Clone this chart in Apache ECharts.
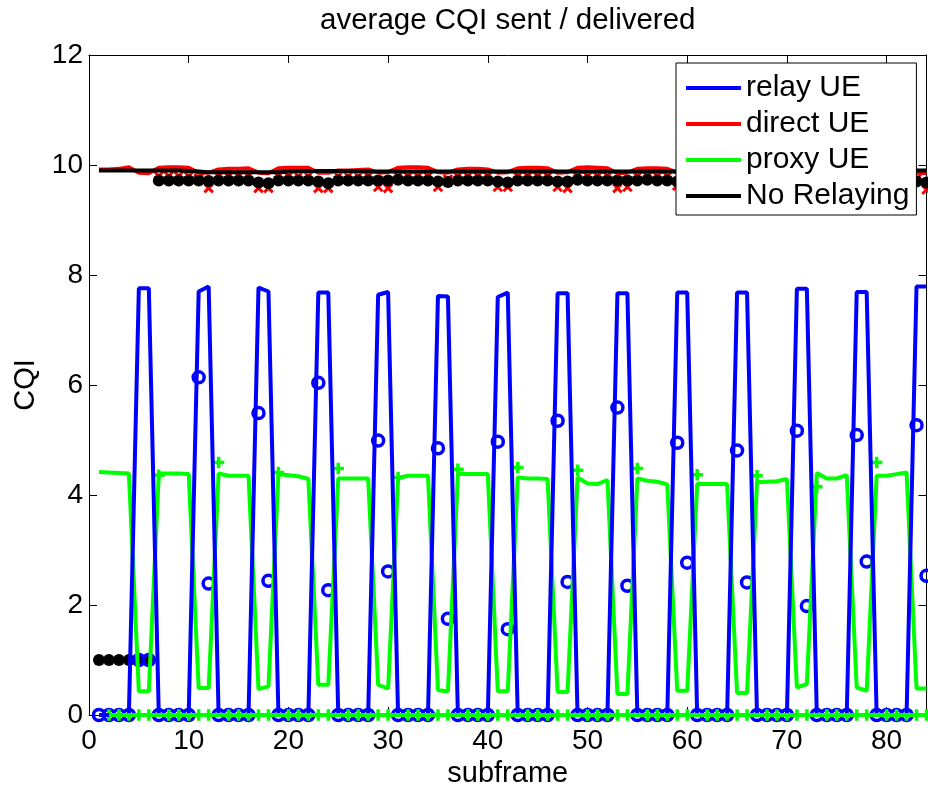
<!DOCTYPE html>
<html>
<head>
<meta charset="utf-8">
<script src="https://cdn.jsdelivr.net/npm/echarts@6/dist/echarts.min.js"></script>
<style>
html,body{margin:0;padding:0;background:#fff;}
#chart{width:928px;height:786px;}
</style>
</head>
<body>
<div id="chart"></div>
<script>
// subframe indices 1..84
const subframes = Array.from({length: 84}, (_, i) => i + 1);
const xTicks = [0, 10, 20, 30, 40, 50, 60, 70, 80];
const yTicks = [0, 2, 4, 6, 8, 10, 12];

// line series: CQI sent
const relayUE = [
  0,0,0,0,7.76,7.76, 0,0,0,0,7.70,7.79, 0,0,0,0,7.77,7.70, 0,0,0,0,7.68,7.68,
  0,0,0,0,7.64,7.69, 0,0,0,0,7.62,7.61, 0,0,0,0,7.60,7.68, 0,0,0,0,7.67,7.67,
  0,0,0,0,7.67,7.67, 0,0,0,0,7.68,7.68, 0,0,0,0,7.68,7.68, 0,0,0,0,7.75,7.75,
  0,0,0,0,7.69,7.69, 0,0,0,0,7.79,7.79
];
const directUE = [
  9.92,9.92,9.93,9.96,9.86,9.85, 9.95,9.96,9.96,9.95,9.86,9.86,
  9.92,9.93,9.93,9.94,9.86,9.85, 9.94,9.95,9.95,9.95,9.86,9.86,
  9.90,9.90,9.91,9.92,9.86,9.87, 9.95,9.96,9.96,9.95,9.87,9.86,
  9.92,9.93,9.93,9.92,9.86,9.87, 9.94,9.95,9.95,9.94,9.86,9.87,
  9.95,9.96,9.95,9.94,9.85,9.86, 9.93,9.94,9.94,9.93,9.86,9.85,
  9.94,9.95,9.94,9.93,9.86,9.86, 9.93,9.94,9.94,9.93,9.85,9.86,
  9.95,9.95,9.94,9.93,9.86,9.85, 9.94,9.94,9.95,9.94,9.86,9.85
];
const proxyUE = [
  4.42,4.41,4.40,4.39,0.43,0.43, 4.39,4.39,4.39,4.38,0.49,0.49,
  4.39,4.35,4.35,4.35,0.47,0.52, 4.38,4.36,4.34,4.29,0.55,0.55,
  4.30,4.30,4.30,4.30,0.55,0.48, 4.31,4.35,4.35,4.35,0.45,0.43,
  4.38,4.38,4.38,4.38,0.43,0.43, 4.32,4.30,4.30,4.29,0.42,0.42,
  4.32,4.21,4.20,4.27,0.38,0.38, 4.30,4.26,4.24,4.19,0.44,0.44,
  4.20,4.20,4.20,4.20,0.40,0.40, 4.23,4.24,4.25,4.29,0.50,0.56,
  4.40,4.30,4.30,4.36,0.50,0.44, 4.35,4.35,4.38,4.41,0.48,0.48
];
const noRelaying = [
  9.90,9.90,9.90,9.90,9.90,9.90, 9.90,9.90,9.90,9.89,9.88,9.87,
  9.87,9.87,9.87,9.87,9.87,9.87, 9.87,9.88,9.89,9.89,9.89,9.89,
  9.89,9.89,9.89,9.88,9.88,9.88, 9.88,9.88,9.88,9.88,9.88,9.88,
  9.88,9.88,9.88,9.88,9.88,9.88, 9.88,9.88,9.88,9.88,9.88,9.88,
  9.88,9.88,9.88,9.88,9.88,9.88, 9.88,9.88,9.88,9.88,9.88,9.88,
  9.88,9.88,9.88,9.88,9.88,9.88, 9.88,9.88,9.88,9.88,9.88,9.88,
  9.89,9.89,9.89,9.89,9.89,9.89, 9.89,9.89,9.89,9.89,9.90,9.90
];
const proxyBase = [
  null,0,0,0,0,0, 0,0,0,0,0,0, 0,0,0,0,0,0, 0,0,0,0,0,0,
  0,0,0,0,0,0, 0,0,0,0,0,0, 0,0,0,0,0,0, 0,0,0,0,0,0,
  0,0,0,0,0,0, 0,0,0,0,0,0, 0,0,0,0,0,0, 0,0,0,0,0,0,
  0,0,0,0,0,0, 0,0,0,0,0,0
];

// marker series: CQI delivered
const relayDelivered = [
  0,0,0,0,1,1, 0,0,0,0,6.14,2.39, 0,0,0,0,5.49,2.44, 0,0,0,0,6.04,2.27,
  0,0,0,0,4.99,2.61, 0,0,0,0,4.85,1.75, 0,0,0,0,4.97,1.56, 0,0,0,0,5.35,2.42,
  0,0,0,0,5.59,2.35, 0,0,0,0,4.95,2.77, 0,0,0,0,4.81,2.41, 0,0,0,0,5.17,1.98,
  0,0,0,0,5.09,2.79, 0,0,0,0,5.27,2.53
];
const proxyDelivered = [
  null,0,0,0,0,0, 4.36,0,0,0,0,0, 4.59,0,0,0,0,0, 4.41,0,0,0,0,0,
  4.48,0,0,0,0,0, 4.32,0,0,0,0,0, 4.47,0,0,0,0,0, 4.50,0,0,0,0,0,
  4.45,0,0,0,0,0, 4.48,0,0,0,0,0, 4.37,0,0,0,0,0, 4.35,0,0,0,0,0,
  4.15,0,0,0,0,0, 4.59,0,0,0,0,0
];
const directDelivered = [
  null,null,null,null,null,null, 9.80,9.80,9.80,9.80,9.76,9.58,
  9.80,9.80,9.80,9.80,9.58,9.58, 9.80,9.80,9.80,9.80,9.58,9.58,
  9.80,9.80,9.80,9.80,9.60,9.58, 9.80,9.80,9.80,9.80,9.60,9.74,
  9.80,9.80,9.80,9.80,9.60,9.60, 9.80,9.80,9.80,9.80,9.60,9.58,
  9.80,9.80,9.80,9.80,9.58,9.60, 9.80,9.80,9.80,9.80,9.62,9.74,
  9.80,9.80,9.80,9.80,9.60,9.60, 9.80,9.80,9.80,9.80,9.58,9.60,
  9.80,9.80,9.80,9.80,9.60,9.58, 9.80,9.80,9.80,9.80,9.75,9.55
];
const noRelayDelivered = [
  1,1,1,1,1,1, 9.72,9.72,9.72,9.72,9.72,9.71,
  9.72,9.72,9.72,9.72,9.68,9.67, 9.72,9.72,9.72,9.72,9.70,9.67,
  9.72,9.72,9.72,9.72,9.72,9.72, 9.73,9.72,9.72,9.72,9.70,9.69,
  9.72,9.72,9.72,9.72,9.70,9.68, 9.72,9.72,9.72,9.72,9.70,9.70,
  9.73,9.72,9.72,9.72,9.72,9.72, 9.72,9.73,9.72,9.72,9.70,9.70,
  9.72,9.72,9.72,9.72,9.70,9.70, 9.72,9.72,9.72,9.72,9.70,9.70,
  9.72,9.72,9.72,9.72,9.70,9.70, 9.72,9.72,9.72,9.72,9.70,9.68
];

const FONT = '"Liberation Sans", Arial, Helvetica, sans-serif';
const pairs = ys => subframes.map((x, i) => [x, ys[i]]);

const chart = echarts.init(document.getElementById('chart'), null, {renderer: 'canvas'});

const lineSeries = (name, data, color) => ({
  name, type: 'line', data: pairs(data), symbol: 'none', showSymbol: false,
  lineStyle: {color, width: 4}, itemStyle: {color}, animation: false, connectNulls: false
});
const markSeries = (name, data, symbol, size, fill, stroke, bw) => ({
  name, type: 'scatter', data: pairs(data).filter(p => p[1] !== null),
  symbol, symbolSize: size,
  itemStyle: {color: fill, borderColor: stroke, borderWidth: bw, opacity: 1},
  animation: false
});

const axisCommon = {
  type: 'value',
  axisLine: {show: true, onZero: false, lineStyle: {color: '#000', width: 1}},
  axisTick: {show: true, inside: true, length: 8, lineStyle: {color: '#000', width: 1}},
  splitLine: {show: false}
};

chart.setOption({
  backgroundColor: '#fff',
  animation: false,
  grid: {left: 89, right: 1.5, top: 55, bottom: 71, containLabel: false, outerBoundsMode: 'none'},
  xAxis: [
    Object.assign({}, axisCommon, {
      min: 0, max: 84, interval: 10, position: 'bottom',
      name: 'subframe', nameLocation: 'middle', nameGap: 39,
      nameTextStyle: {fontFamily: FONT, fontSize: 29, color: '#000'},
      axisLabel: {show: true, margin: 12, fontFamily: FONT, fontSize: 28, color: '#000',
        formatter: v => xTicks.includes(v) ? String(v) : ''}
    }),
    Object.assign({}, axisCommon, {
      min: 0, max: 84, interval: 10, position: 'top', axisLabel: {show: false}
    })
  ],
  yAxis: [
    Object.assign({}, axisCommon, {
      min: 0, max: 12, interval: 2, position: 'left',
      name: 'CQI', nameLocation: 'middle', nameGap: 32,
      nameTextStyle: {fontFamily: FONT, fontSize: 29, color: '#000'},
      axisLabel: {show: true, margin: 6, fontFamily: FONT, fontSize: 28, color: '#000',
        formatter: v => yTicks.includes(v) ? String(v) : ''}
    }),
    Object.assign({}, axisCommon, {
      min: 0, max: 12, interval: 2, position: 'right', axisLabel: {show: false}
    })
  ],
  legend: {
    data: ['relay UE', 'direct UE', 'proxy UE', 'No Relaying'],
    orient: 'vertical', left: 676, top: 63,
    backgroundColor: '#fff', borderColor: '#000', borderWidth: 1,
    padding: [10, 7, 4, 10],
    icon: 'rect', itemWidth: 55, itemHeight: 4, itemGap: 6,
    textStyle: {fontFamily: FONT, fontSize: 30, color: '#000'},
    selectedMode: false
  },
  graphic: [{
    type: 'text', x: 507.75, y: 21, silent: true,
    style: {text: 'average CQI sent / delivered', font: '29.5px ' + FONT, fill: '#000',
      align: 'center', verticalAlign: 'middle'}
  }],
  series: [
    lineSeries('proxy UE', proxyUE, '#00ff00'),
    lineSeries('relay UE', relayUE, '#0000ff'),
    lineSeries('direct UE', directUE, '#ff0000'),
    lineSeries('No Relaying', noRelaying, '#000000'),
    lineSeries('proxy base', proxyBase, '#00ff00'),
    markSeries('direct delivered', directDelivered, 'path://M0,0L10,10M10,0L0,10', 8.5, 'none', '#ff0000', 3),
    markSeries('no relaying delivered', noRelayDelivered, 'circle', 12, '#000000', '#000000', 0),
    markSeries('relay delivered', relayDelivered, 'circle', 11, 'rgba(0,0,0,0)', '#0000ff', 3.5),
    markSeries('proxy delivered', proxyDelivered, 'path://M5,0L5,10M0,5L10,5', 11.5, 'none', '#00ff00', 3.5)
  ]
});
</script>
</body>
</html>
